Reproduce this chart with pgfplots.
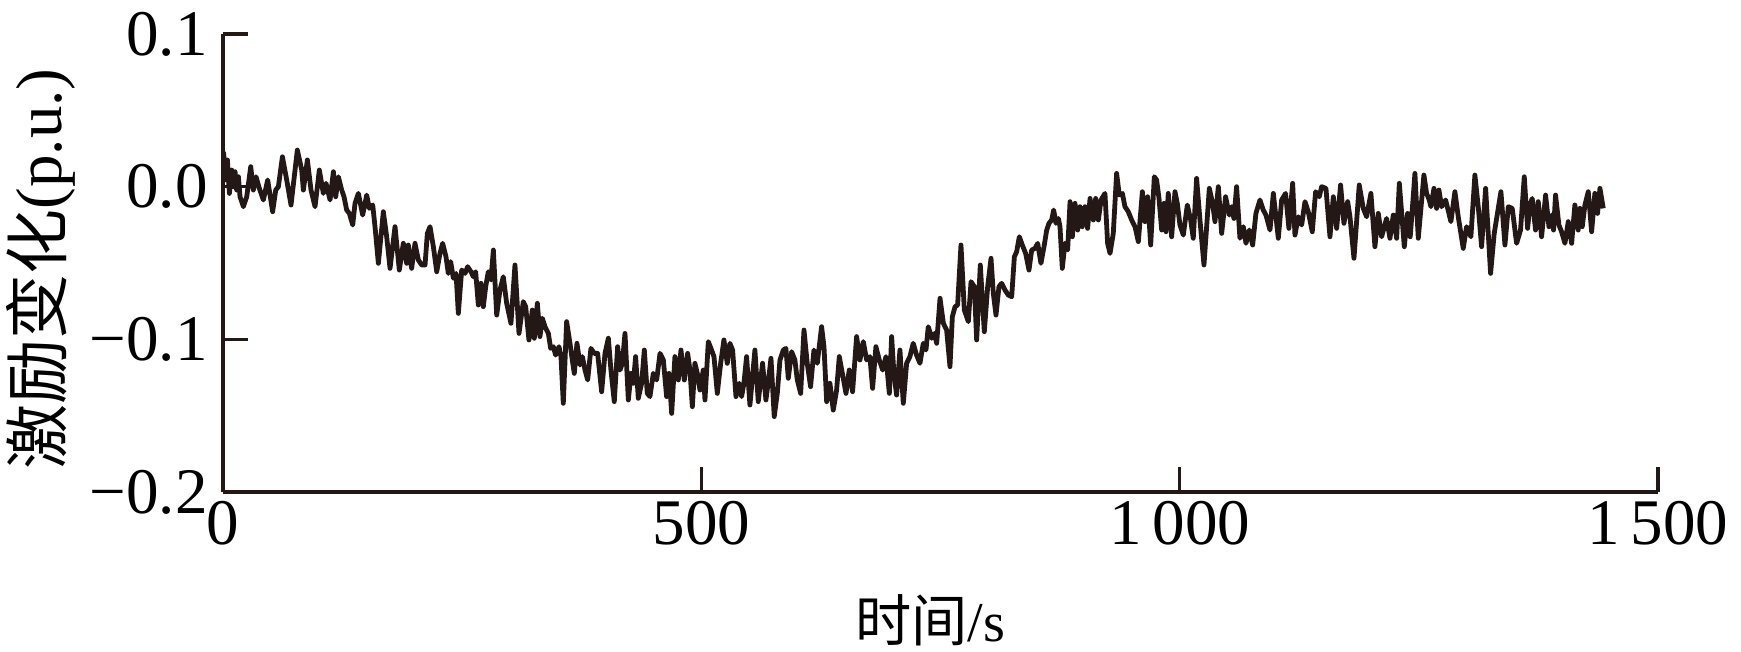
\documentclass[border=0pt]{standalone}
\usepackage{fontspec}
\setmainfont{Liberation Serif}
\newfontfamily\cjk{Noto Sans CJK SC}
\usepackage{pgfplots}
\pgfplotsset{compat=1.18}
\definecolor{linecol}{RGB}{35,24,21}
\begin{document}
\begin{tikzpicture}
\begin{axis}[
  scale only axis,
  width=143.5mm, height=45.8mm,
  xmin=0, xmax=1500, ymin=-0.2, ymax=0.1,
  axis lines=left,
  axis line style={-, line width=0.33mm, color=linecol},
  tick align=inside,
  major tick length=2.5mm,
  every tick/.style={line width=0.33mm, color=linecol},
  xtick={0,500,1000,1500},
  xticklabels={0,500,1\,000,1\,500},
  ytick={-0.2,-0.1,0,0.1},
  yticklabels={−0.2,−0.1,0.0,0.1},
  tick label style={font=\fontsize{18.5}{22}\selectfont, color=black},
  xticklabel style={yshift=0.3mm},
  yticklabel style={xshift=-0.3mm},
  every axis x label/.style={at={(axis description cs:0.4927,-0.2795)}, anchor=center},
  every axis y label/.style={at={(axis description cs:-0.127,0.487)}, anchor=center, rotate=90},
  xlabel={\fontsize{16}{18}\selectfont\cjk 时间\rmfamily/s},
  ylabel={\fontsize{18.5}{20}\selectfont\cjk 激励变化\rmfamily(p.u.)},
  clip=false,
]
\addplot[line width=0.48mm, color=linecol, line join=round, mark=none] table {
t v
0.5 0.0229
3.2 0.0044
4.6 0.0175
6.7 -0.0044
9.1 0.0109
10.8 0.0
12.6 0.0098
14.3 -0.0022
16.1 0.0065
17.8 -0.0066
21.3 -0.0131
24.8 -0.0066
29.0 0.0131
31.7 -0.0022
34.5 0.0065
38.0 -0.0011
42.2 -0.0087
46.7 0.0044
51.9 -0.0164
55.1 -0.0022
57.9 0.0
62.1 0.0196
66.6 0.0044
71.1 -0.0120
77.7 0.0240
82.3 0.0109
84.0 -0.0022
88.2 0.0175
92.0 -0.0022
96.2 -0.0131
100.7 0.0109
104.9 -0.0044
107.7 0.0022
111.9 -0.0087
115.4 0.0098
117.8 -0.0066
120.6 0.0065
124.1 -0.0022
126.5 -0.0066
129.3 -0.0153
132.1 -0.0175
135.6 -0.0251
138.0 -0.0109
141.5 -0.0044
146.0 -0.0186
150.2 -0.0055
153.0 -0.0142
156.5 -0.0120
158.9 -0.0262
162.4 -0.0502
167.6 -0.0164
171.1 -0.0328
174.6 -0.0535
179.8 -0.0262
184.3 -0.0546
188.5 -0.0371
192.0 -0.0502
193.7 -0.0382
197.2 -0.0535
200.7 -0.0371
204.2 -0.0480
207.7 -0.0513
211.2 -0.0513
213.6 -0.0306
216.4 -0.0262
219.9 -0.0393
223.4 -0.0557
226.8 -0.0437
229.6 -0.0371
233.1 -0.0459
235.5 -0.0568
238.0 -0.0491
240.8 -0.0600
243.6 -0.0568
246.0 -0.0830
249.5 -0.0546
253.0 -0.0568
255.7 -0.0524
259.2 -0.0557
261.7 -0.0590
264.1 -0.0557
266.9 -0.0775
269.7 -0.0633
272.1 -0.0786
274.6 -0.0655
277.3 -0.0557
280.1 -0.0611
282.6 -0.0415
286.1 -0.0841
289.5 -0.0677
293.0 -0.0590
296.5 -0.0764
301.0 -0.0895
305.2 -0.0513
309.4 -0.0961
313.9 -0.0753
316.4 -0.0786
319.8 -0.1004
323.3 -0.0808
325.4 -0.0993
328.6 -0.0764
331.3 -0.0982
333.8 -0.0862
336.6 -0.0917
340.1 -0.0961
342.5 -0.1059
345.3 -0.1048
347.7 -0.1103
351.2 -0.1048
353.3 -0.1113
355.7 -0.1419
359.2 -0.0884
362.7 -0.1026
365.1 -0.1135
367.2 -0.1223
370.0 -0.1026
373.2 -0.1168
375.6 -0.1113
378.4 -0.1201
381.2 -0.1266
384.6 -0.1059
388.1 -0.1092
391.6 -0.1092
395.8 -0.1343
399.3 -0.1092
402.8 -0.0993
405.5 -0.1201
409.0 -0.1408
412.5 -0.1048
415.0 -0.1201
417.4 -0.1157
420.2 -0.0961
423.7 -0.1397
426.5 -0.1223
428.9 -0.1288
431.3 -0.1113
434.1 -0.1386
437.6 -0.1288
440.4 -0.1070
443.5 -0.1354
446.3 -0.1375
449.8 -0.1223
453.3 -0.1266
456.8 -0.1092
460.3 -0.1135
463.7 -0.1375
466.2 -0.1223
469.0 -0.1485
472.4 -0.1113
475.9 -0.1266
478.7 -0.1070
482.2 -0.1266
485.7 -0.1092
488.1 -0.1201
490.6 -0.1441
493.3 -0.1157
495.8 -0.1223
498.6 -0.1332
502.0 -0.1201
503.8 -0.1397
507.3 -0.1015
510.7 -0.1070
513.2 -0.1113
516.7 -0.1354
520.2 -0.1157
523.6 -0.1004
527.1 -0.1157
529.9 -0.1026
532.7 -0.1070
536.2 -0.1375
539.7 -0.1288
542.1 -0.1375
544.5 -0.1288
547.3 -0.1113
550.8 -0.1430
556.0 -0.1070
559.5 -0.1408
564.0 -0.1157
567.5 -0.1397
570.0 -0.1277
572.8 -0.1124
576.2 -0.1506
579.4 -0.1354
582.2 -0.1135
585.7 -0.1070
588.4 -0.1059
590.9 -0.1255
594.4 -0.1081
597.8 -0.1135
600.3 -0.1266
603.8 -0.1354
607.3 -0.0939
610.7 -0.1157
614.2 -0.1310
617.7 -0.1070
621.2 -0.1157
625.7 -0.0917
628.2 -0.1048
631.0 -0.1408
634.4 -0.1288
637.9 -0.1463
641.4 -0.1332
644.2 -0.1113
647.7 -0.1233
651.2 -0.1354
654.6 -0.1201
658.1 -0.1343
662.3 -0.0982
665.8 -0.1135
669.3 -0.1015
672.8 -0.1135
676.2 -0.1113
679.0 -0.1321
682.5 -0.1048
686.0 -0.1135
689.5 -0.1201
693.0 -0.1113
696.5 -0.1354
698.9 -0.0982
701.3 -0.1223
704.1 -0.1365
707.6 -0.1070
711.1 -0.1419
714.6 -0.1157
718.0 -0.1113
721.5 -0.1026
725.0 -0.1103
728.5 -0.1157
732.0 -0.1026
734.8 -0.1070
737.2 -0.0917
740.8 -0.0993
743.6 -0.0961
746.0 -0.1026
749.5 -0.0731
753.0 -0.0895
756.4 -0.0939
759.9 -0.1179
762.4 -0.0851
765.2 -0.0786
767.9 -0.0775
771.4 -0.0382
774.9 -0.0808
779.1 -0.0884
781.9 -0.0622
785.4 -0.0655
787.8 -0.1004
791.6 -0.0513
795.8 -0.0950
799.3 -0.0655
802.8 -0.0469
805.2 -0.0699
808.0 -0.0841
811.1 -0.0655
813.9 -0.0633
817.4 -0.0677
820.9 -0.0710
824.4 -0.0721
827.2 -0.0459
829.6 -0.0426
832.4 -0.0328
835.5 -0.0382
839.0 -0.0437
842.5 -0.0546
845.3 -0.0415
848.8 -0.0404
851.6 -0.0371
855.0 -0.0502
858.5 -0.0382
861.0 -0.0284
863.4 -0.0240
866.2 -0.0218
868.3 -0.0153
870.7 -0.0240
873.2 -0.0208
874.9 -0.0262
877.3 -0.0535
880.1 -0.0371
882.9 -0.0415
885.4 -0.0098
887.8 -0.0328
890.6 -0.0109
893.4 -0.0284
895.8 -0.0131
898.2 -0.0262
901.0 -0.0131
903.8 -0.0273
906.3 -0.0077
909.7 -0.0218
912.2 -0.0077
915.0 -0.0218
917.8 -0.0087
921.9 -0.0044
924.7 -0.0371
927.2 -0.0437
930.6 -0.0306
934.1 0.0087
936.9 -0.0055
940.1 -0.0044
942.8 -0.0131
946.3 -0.0164
949.8 -0.0218
953.3 -0.0262
956.8 -0.0360
961.0 -0.0033
963.7 -0.0229
966.5 -0.0066
969.7 -0.0382
973.5 0.0065
975.9 0.0044
978.4 -0.0077
981.2 -0.0284
983.6 -0.0109
985.7 -0.0295
988.1 -0.0044
991.6 -0.0328
995.1 -0.0033
997.5 -0.0109
1000.3 -0.0251
1003.8 -0.0317
1008.0 -0.0120
1011.5 -0.0218
1014.2 -0.0338
1017.7 0.0054
1021.2 -0.0218
1025.4 -0.0513
1031.0 -0.0011
1034.4 -0.0109
1036.9 -0.0229
1040.4 0.0
1043.9 -0.0306
1048.0 -0.0066
1051.9 -0.0186
1054.3 -0.0131
1056.7 -0.0208
1059.5 0.0
1063.0 -0.0338
1066.5 -0.0262
1069.3 -0.0371
1072.8 -0.0284
1076.3 -0.0382
1079.7 -0.0175
1083.9 -0.0087
1087.4 -0.0153
1090.2 -0.0186
1094.4 -0.0284
1097.9 -0.0044
1103.1 -0.0338
1106.6 -0.0087
1110.7 -0.0044
1114.2 -0.0273
1118.1 0.0022
1120.5 -0.0317
1124.0 -0.0197
1127.5 -0.0251
1131.0 -0.0098
1134.4 -0.0164
1138.6 -0.0295
1142.1 -0.0033
1145.9 -0.0066
1148.4 0.0
1152.9 -0.0011
1157.1 -0.0328
1160.6 -0.0066
1164.1 -0.0273
1168.2 0.0011
1171.7 -0.0240
1175.6 -0.0098
1178.0 -0.0197
1182.2 -0.0469
1187.7 0.0011
1191.9 -0.0142
1195.4 -0.0197
1199.9 -0.0044
1204.1 -0.0393
1207.6 -0.0175
1211.1 -0.0328
1216.3 -0.0208
1219.8 -0.0338
1223.3 -0.0186
1226.8 -0.0338
1229.6 0.0022
1234.8 -0.0393
1238.2 -0.0175
1241.0 -0.0328
1243.1 -0.0153
1245.9 0.0087
1249.4 -0.0338
1255.3 0.0076
1258.1 -0.0044
1260.9 -0.0087
1262.6 -0.0131
1265.8 -0.0011
1268.6 -0.0142
1271.0 -0.0022
1273.8 -0.0131
1278.0 -0.0087
1283.5 -0.0229
1287.7 -0.0033
1291.2 -0.0197
1296.4 -0.0404
1299.9 -0.0262
1304.4 -0.0328
1308.6 0.0076
1312.1 -0.0131
1315.6 -0.0393
1319.8 -0.0011
1325.0 -0.0568
1328.8 -0.0306
1335.8 -0.0033
1340.0 -0.0382
1343.5 -0.0131
1347.6 -0.0142
1352.2 -0.0371
1356.3 -0.0284
1360.2 0.0065
1363.7 -0.0273
1366.1 -0.0120
1368.5 -0.0077
1372.0 -0.0284
1374.8 -0.0098
1378.3 -0.0328
1382.5 -0.0055
1386.0 -0.0262
1388.7 -0.0186
1390.8 -0.0284
1392.9 -0.0055
1396.4 -0.0251
1399.2 -0.0295
1402.7 -0.0371
1406.2 -0.0229
1409.7 -0.0371
1413.1 -0.0120
1416.6 -0.0284
1418.4 -0.0142
1420.8 -0.0262
1423.6 -0.0120
1427.1 -0.0033
1430.6 -0.0295
1434.0 -0.0044
1436.8 -0.0175
1439.3 -0.0011
1442.8 -0.0142
};
\end{axis}
\pgfresetboundingbox
\path ([shift={(-22.3mm,-15.9mm)}]current axis.south west) rectangle ([shift={(151.8mm,49.2mm)}]current axis.south west);
\end{tikzpicture}
\end{document}
